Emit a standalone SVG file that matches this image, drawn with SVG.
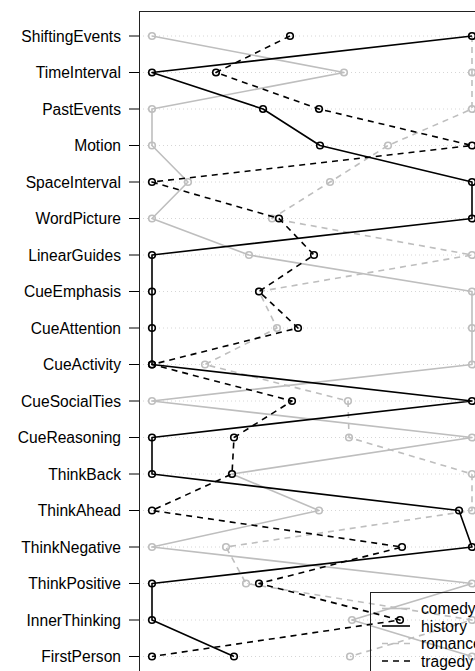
<svg xmlns="http://www.w3.org/2000/svg" width="475" height="671" viewBox="0 0 475 671">
<style>
text{font-family:"Liberation Sans",Arial,sans-serif;font-size:15.6px;fill:#000}
.lab{text-anchor:end}
.grid{stroke:#d6d6d6;stroke-width:1;stroke-dasharray:1 3;fill:none}
.tick{stroke:#000;stroke-width:1}
.ln{fill:none;stroke-width:1.6;stroke-linejoin:round}
.g{stroke:#bebebe}
.k{stroke:#000}
.d{stroke-dasharray:6 5}
.pt{fill:none;stroke-width:1.6}
</style>
<rect width="475" height="671" fill="#fff"/>
<g id="grid">
<line class="grid" x1="139" y1="36" x2="475" y2="36"/>
<line class="grid" x1="139" y1="72.5" x2="475" y2="72.5"/>
<line class="grid" x1="139" y1="109" x2="475" y2="109"/>
<line class="grid" x1="139" y1="145.5" x2="475" y2="145.5"/>
<line class="grid" x1="139" y1="182" x2="475" y2="182"/>
<line class="grid" x1="139" y1="218.5" x2="475" y2="218.5"/>
<line class="grid" x1="139" y1="255" x2="475" y2="255"/>
<line class="grid" x1="139" y1="291.5" x2="475" y2="291.5"/>
<line class="grid" x1="139" y1="328" x2="475" y2="328"/>
<line class="grid" x1="139" y1="364.5" x2="475" y2="364.5"/>
<line class="grid" x1="139" y1="401" x2="475" y2="401"/>
<line class="grid" x1="139" y1="437.5" x2="475" y2="437.5"/>
<line class="grid" x1="139" y1="474" x2="475" y2="474"/>
<line class="grid" x1="139" y1="510.5" x2="475" y2="510.5"/>
<line class="grid" x1="139" y1="547" x2="475" y2="547"/>
<line class="grid" x1="139" y1="583.5" x2="475" y2="583.5"/>
<line class="grid" x1="139" y1="620" x2="475" y2="620"/>
<line class="grid" x1="139" y1="656.5" x2="475" y2="656.5"/>
</g>
<g id="axis">
<rect x="139.5" y="11.5" width="400" height="700" fill="none" stroke="#222" stroke-width="1"/>
<line class="tick" x1="129" y1="36" x2="139" y2="36"/>
<line class="tick" x1="129" y1="72.5" x2="139" y2="72.5"/>
<line class="tick" x1="129" y1="109" x2="139" y2="109"/>
<line class="tick" x1="129" y1="145.5" x2="139" y2="145.5"/>
<line class="tick" x1="129" y1="182" x2="139" y2="182"/>
<line class="tick" x1="129" y1="218.5" x2="139" y2="218.5"/>
<line class="tick" x1="129" y1="255" x2="139" y2="255"/>
<line class="tick" x1="129" y1="291.5" x2="139" y2="291.5"/>
<line class="tick" x1="129" y1="328" x2="139" y2="328"/>
<line class="tick" x1="129" y1="364.5" x2="139" y2="364.5"/>
<line class="tick" x1="129" y1="401" x2="139" y2="401"/>
<line class="tick" x1="129" y1="437.5" x2="139" y2="437.5"/>
<line class="tick" x1="129" y1="474" x2="139" y2="474"/>
<line class="tick" x1="129" y1="510.5" x2="139" y2="510.5"/>
<line class="tick" x1="129" y1="547" x2="139" y2="547"/>
<line class="tick" x1="129" y1="583.5" x2="139" y2="583.5"/>
<line class="tick" x1="129" y1="620" x2="139" y2="620"/>
<line class="tick" x1="129" y1="656.5" x2="139" y2="656.5"/>
<text class="lab" x="121" y="41.5">ShiftingEvents</text>
<text class="lab" x="121" y="78">TimeInterval</text>
<text class="lab" x="121" y="114.5">PastEvents</text>
<text class="lab" x="121" y="151">Motion</text>
<text class="lab" x="121" y="187.5">SpaceInterval</text>
<text class="lab" x="121" y="224">WordPicture</text>
<text class="lab" x="121" y="260.5">LinearGuides</text>
<text class="lab" x="121" y="297">CueEmphasis</text>
<text class="lab" x="121" y="333.5">CueAttention</text>
<text class="lab" x="121" y="370">CueActivity</text>
<text class="lab" x="121" y="406.5">CueSocialTies</text>
<text class="lab" x="121" y="443">CueReasoning</text>
<text class="lab" x="121" y="479.5">ThinkBack</text>
<text class="lab" x="121" y="516">ThinkAhead</text>
<text class="lab" x="121" y="552.5">ThinkNegative</text>
<text class="lab" x="121" y="589">ThinkPositive</text>
<text class="lab" x="121" y="625.5">InnerThinking</text>
<text class="lab" x="121" y="662">FirstPerson</text>
</g>
<g id="comedy">
<polyline class="ln g" points="152,36 344,72.5 152,109 152,145.5 188,182 152,218.5 249,255 472,291.5 472,328 472,364.5 152,401 472,437.5 232,474 319,510.5 152,547 472,583.5 352,620 472,656.5"/>
<g class="pt g">
<circle cx="152" cy="36" r="3.3"/><circle cx="344" cy="72.5" r="3.3"/><circle cx="152" cy="109" r="3.3"/><circle cx="152" cy="145.5" r="3.3"/><circle cx="188" cy="182" r="3.3"/><circle cx="152" cy="218.5" r="3.3"/><circle cx="249" cy="255" r="3.3"/><circle cx="472" cy="291.5" r="3.3"/><circle cx="472" cy="328" r="3.3"/><circle cx="472" cy="364.5" r="3.3"/><circle cx="152" cy="401" r="3.3"/><circle cx="472" cy="437.5" r="3.3"/><circle cx="232" cy="474" r="3.3"/><circle cx="319" cy="510.5" r="3.3"/><circle cx="152" cy="547" r="3.3"/><circle cx="472" cy="583.5" r="3.3"/><circle cx="352" cy="620" r="3.3"/><circle cx="472" cy="656.5" r="3.3"/>
</g>
</g>
<g id="romance">
<polyline class="ln g d" points="472,36 472,72.5 472,109 388,145.5 330,182 272,218.5 472,255 259,291.5 277,328 205,364.5 348,401 349,437.5 472,474 472,510.5 226,547 246,583.5 472,620 350,656.5"/>
<g class="pt g">
<circle cx="472" cy="36" r="3.3"/><circle cx="472" cy="72.5" r="3.3"/><circle cx="472" cy="109" r="3.3"/><circle cx="388" cy="145.5" r="3.3"/><circle cx="330" cy="182" r="3.3"/><circle cx="272" cy="218.5" r="3.3"/><circle cx="472" cy="255" r="3.3"/><circle cx="259" cy="291.5" r="3.3"/><circle cx="277" cy="328" r="3.3"/><circle cx="205" cy="364.5" r="3.3"/><circle cx="348" cy="401" r="3.3"/><circle cx="349" cy="437.5" r="3.3"/><circle cx="472" cy="474" r="3.3"/><circle cx="472" cy="510.5" r="3.3"/><circle cx="226" cy="547" r="3.3"/><circle cx="246" cy="583.5" r="3.3"/><circle cx="472" cy="620" r="3.3"/><circle cx="350" cy="656.5" r="3.3"/>
</g>
</g>
<g id="history">
<polyline class="ln k" points="472,36 152,72.5 263,109 320,145.5 472,182 472,218.5 152,255 152,291.5 152,328 152,364.5 472,401 152,437.5 152,474 459,510.5 472,547 152,583.5 152,620 234,656.5"/>
<g class="pt k">
<circle cx="472" cy="36" r="3.3"/><circle cx="152" cy="72.5" r="3.3"/><circle cx="263" cy="109" r="3.3"/><circle cx="320" cy="145.5" r="3.3"/><circle cx="472" cy="182" r="3.3"/><circle cx="472" cy="218.5" r="3.3"/><circle cx="152" cy="255" r="3.3"/><circle cx="152" cy="291.5" r="3.3"/><circle cx="152" cy="328" r="3.3"/><circle cx="152" cy="364.5" r="3.3"/><circle cx="472" cy="401" r="3.3"/><circle cx="152" cy="437.5" r="3.3"/><circle cx="152" cy="474" r="3.3"/><circle cx="459" cy="510.5" r="3.3"/><circle cx="472" cy="547" r="3.3"/><circle cx="152" cy="583.5" r="3.3"/><circle cx="152" cy="620" r="3.3"/><circle cx="234" cy="656.5" r="3.3"/>
</g>
</g>
<g id="tragedy">
<polyline class="ln k d" points="290,36 216,72.5 319,109 472,145.5 152,182 279,218.5 314,255 259,291.5 298,328 152,364.5 292,401 234,437.5 232,474 152,510.5 402,547 259,583.5 400,620 152,656.5"/>
<g class="pt k">
<circle cx="290" cy="36" r="3.3"/><circle cx="216" cy="72.5" r="3.3"/><circle cx="319" cy="109" r="3.3"/><circle cx="472" cy="145.5" r="3.3"/><circle cx="152" cy="182" r="3.3"/><circle cx="279" cy="218.5" r="3.3"/><circle cx="314" cy="255" r="3.3"/><circle cx="259" cy="291.5" r="3.3"/><circle cx="298" cy="328" r="3.3"/><circle cx="152" cy="364.5" r="3.3"/><circle cx="292" cy="401" r="3.3"/><circle cx="234" cy="437.5" r="3.3"/><circle cx="232" cy="474" r="3.3"/><circle cx="152" cy="510.5" r="3.3"/><circle cx="402" cy="547" r="3.3"/><circle cx="259" cy="583.5" r="3.3"/><circle cx="400" cy="620" r="3.3"/><circle cx="152" cy="656.5" r="3.3"/>
</g>
</g>
<g id="legend">
<rect x="370.5" y="592.5" width="200" height="100" fill="none" stroke="#222" stroke-width="1"/>
<line class="ln g" x1="382" y1="608.5" x2="410" y2="608.5"/>
<line class="ln k" x1="382" y1="626" x2="410" y2="626"/>
<line class="ln g d" x1="382" y1="643.5" x2="410" y2="643.5"/>
<line class="ln k d" x1="382" y1="661" x2="410" y2="661"/>
<text x="421" y="614">comedy</text>
<text x="421" y="631.5">history</text>
<text x="421" y="649">romance</text>
<text x="421" y="666.5">tragedy</text>
</g>
</svg>
